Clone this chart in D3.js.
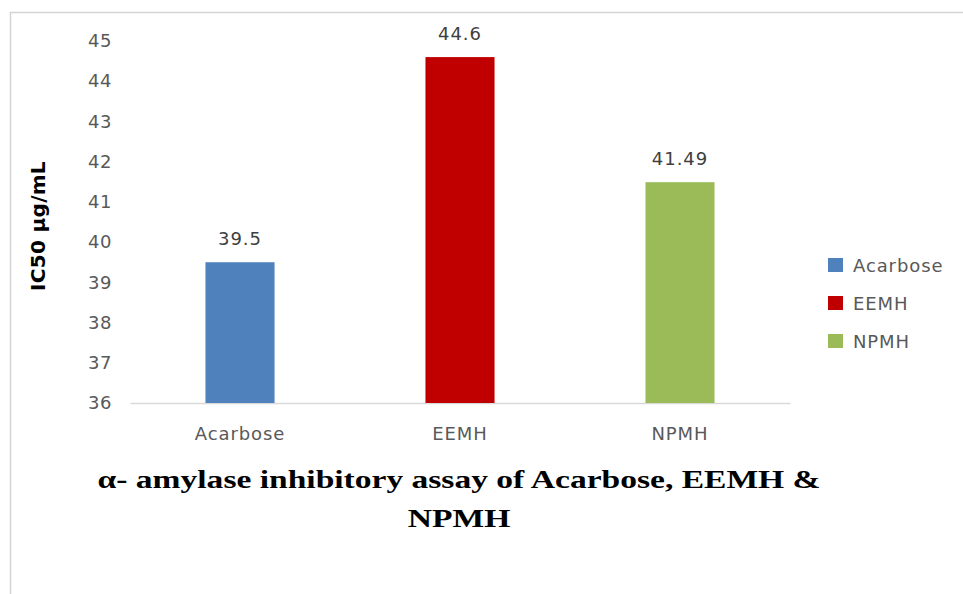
<!DOCTYPE html>
<html>
<head>
<meta charset="utf-8">
<script src="https://cdn.jsdelivr.net/npm/d3@7"></script>
<style>
  body { margin: 0; background: #fff; }
</style>
</head>
<body>
<div id="chart"></div>
<script>
// Data
const categories = ["Acarbose", "EEMH", "NPMH"]
const values = [39.5, 44.6, 41.49]
const valueLabels = ["39.5", "44.6", "41.49"]
const barColors = ["#4F81BD", "#C00000", "#9BBB59"]
const yTicks = [36, 37, 38, 39, 40, 41, 42, 43, 44, 45]
const titleLines = ["α- amylase inhibitory assay of Acarbose, EEMH &", "NPMH"]

const width = 963
const height = 594
const textGrey = "#595959"
const sansFont = "'DejaVu Sans', sans-serif"

const svg = d3.select('#chart').append('svg')
  .attr("width", width)
  .attr("height", height)

// outer frame
svg.append("path")
  .attr("d", `M10.5,${height} L10.5,12.5 L${width},12.5`)
  .attr("fill", "none")
  .attr("stroke", "#d4d4d4")
  .attr("stroke-width", 1.5)

// Scales
const x = d3.scaleBand()
  .domain(categories)
  .range([130, 790])
  .paddingInner(0.686)
  .paddingOuter(0.343)

const y = d3.scaleLinear()
  .domain([36, 45])
  .range([403, 41])

// Y axis
const yAxis = svg.append("g")
  .attr("transform", "translate(112,0)")
  .call(d3.axisLeft(y).tickValues(yTicks).tickSize(0).tickPadding(0).tickFormat(d3.format("d")))
yAxis.select(".domain").remove()
yAxis.selectAll("text")
  .attr("fill", textGrey)
  .style("font-family", sansFont)
  .style("font-size", "18px")
  .style("letter-spacing", "0.5px")

// X axis
const xAxis = svg.append("g")
  .attr("transform", "translate(0,403)")
  .call(d3.axisBottom(x).tickSize(0).tickPadding(37))
xAxis.select(".domain").attr("stroke", "#d9d9d9").attr("stroke-width", 1.3)
xAxis.selectAll("text")
  .attr("fill", textGrey)
  .attr("dy", "0")
  .style("font-family", sansFont)
  .style("font-size", "18px")
  .style("letter-spacing", "0.9px")

// Bars
svg.append("g")
  .selectAll("rect")
  .data(categories)
  .enter()
  .append("rect")
  .attr("x", d => x(d))
  .attr("y", (d, i) => y(values[i]))
  .attr("width", x.bandwidth())
  .attr("height", (d, i) => y(36) - y(values[i]))
  .attr("fill", (d, i) => barColors[i])

// Value labels
svg.append("g")
  .selectAll("text")
  .data(categories)
  .enter()
  .append("text")
  .attr("x", d => x(d) + x.bandwidth() / 2)
  .attr("y", (d, i) => y(values[i]) - 17)
  .attr("text-anchor", "middle")
  .attr("fill", "#404040")
  .style("font-family", sansFont)
  .style("font-size", "18px")
  .style("letter-spacing", "1px")
  .text((d, i) => valueLabels[i])

// Y axis title
svg.append("text")
  .attr("transform", "translate(45,226) rotate(-90)")
  .attr("text-anchor", "middle")
  .attr("fill", "#000")
  .style("font-family", sansFont)
  .style("font-weight", "bold")
  .style("font-size", "20px")
  .style("letter-spacing", "0.3px")
  .text("IC50 µg/mL")

// Legend
const legend = svg.append("g")
  .selectAll("g")
  .data(categories)
  .enter()
  .append("g")
  .attr("transform", (d, i) => `translate(828,${265 + i * 38})`)
legend.append("rect")
  .attr("x", 0)
  .attr("y", -7)
  .attr("width", 15)
  .attr("height", 14)
  .attr("fill", (d, i) => barColors[i])
legend.append("text")
  .attr("x", 25)
  .attr("y", 6.5)
  .attr("fill", textGrey)
  .style("font-family", sansFont)
  .style("font-size", "18px")
  .style("letter-spacing", "0.9px")
  .text(d => d)

// Chart title (stretched horizontally like the source image)
const title = svg.append("g")
  .attr("transform", "translate(459,0) scale(1.29,1)")
  .append("text")
  .attr("text-anchor", "middle")
  .attr("fill", "#000")
  .style("font-family", "'Liberation Serif', serif")
  .style("font-weight", "bold")
  .style("font-size", "26px")
title.selectAll("tspan")
  .data(titleLines)
  .enter()
  .append("tspan")
  .attr("x", 0)
  .attr("y", (d, i) => 488 + i * 39)
  .text(d => d)
</script>
</body>
</html>
